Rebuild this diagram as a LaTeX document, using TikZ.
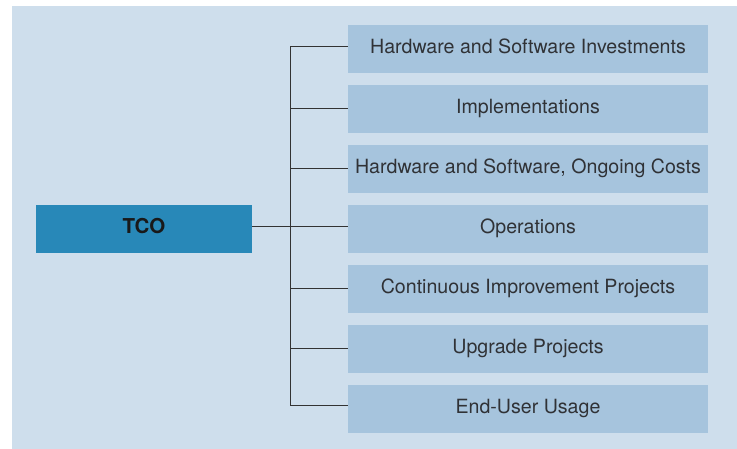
\documentclass[tikz,border=0pt]{standalone}
\usepackage{fontspec}
\setmainfont{TeX Gyre Heros}
\definecolor{panel}{HTML}{CEDEEC}
\definecolor{boxc}{HTML}{A6C4DD}
\definecolor{tcoc}{HTML}{2888B8}
\definecolor{txt}{HTML}{303236}
\definecolor{linec}{HTML}{333333}
\begin{document}
\begin{tikzpicture}[x=1pt,y=-1pt,
  itembox/.style={rectangle, fill=boxc, minimum width=360pt, minimum height=48pt, inner sep=0pt,
    text=txt, font=\fontsize{19.6}{23}\selectfont, text height=14pt, text depth=4.6pt},
  tcobox/.style={rectangle, fill=tcoc, minimum width=216pt, minimum height=48pt, inner sep=0pt,
    text=black!90, font=\fontsize{20.5}{24}\selectfont\bfseries, text height=14.5pt, text depth=4.6pt},
  conn/.style={draw=linec, line width=1.7pt}]
\useasboundingbox (0,0) rectangle (737,449);
\fill[panel] (12,6) rectangle (737,449);
\node[tcobox] (tco) at (144,229) {TCO};
\node[itembox] (b1) at (528,49)  {Hardware and Software Investments};
\node[itembox] (b2) at (528,109) {Implementations};
\node[itembox] (b3) at (528,169) {Hardware and Software, Ongoing Costs};
\node[itembox] (b4) at (528,229) {Operations};
\node[itembox] (b5) at (528,289) {Continuous Improvement Projects};
\node[itembox] (b6) at (528,349) {Upgrade Projects};
\node[itembox] (b7) at (528,409) {End-User Usage};
\coordinate (spine) at (290.5,229);
\coordinate (p0) at ([yshift=2.5pt]tco.east);
\coordinate (p1) at ([yshift=2.5pt]b1.west);
\coordinate (p2) at ([yshift=0.5pt]b2.west);
\coordinate (p3) at ([yshift=0.5pt]b3.west);
\coordinate (p4) at ([yshift=2.5pt]b4.west);
\coordinate (p5) at ([yshift=0.5pt]b5.west);
\coordinate (p6) at ([yshift=0.5pt]b6.west);
\coordinate (p7) at ([yshift=3.5pt]b7.west);
\draw[conn] (p1) -- (p1 -| spine) -- (p7 -| spine) -- (p7);
\draw[conn] (p0) -- (p0 -| spine);
\foreach \i in {2,...,6} { \draw[conn] (p\i -| spine) -- (p\i); }
\end{tikzpicture}
\end{document}
